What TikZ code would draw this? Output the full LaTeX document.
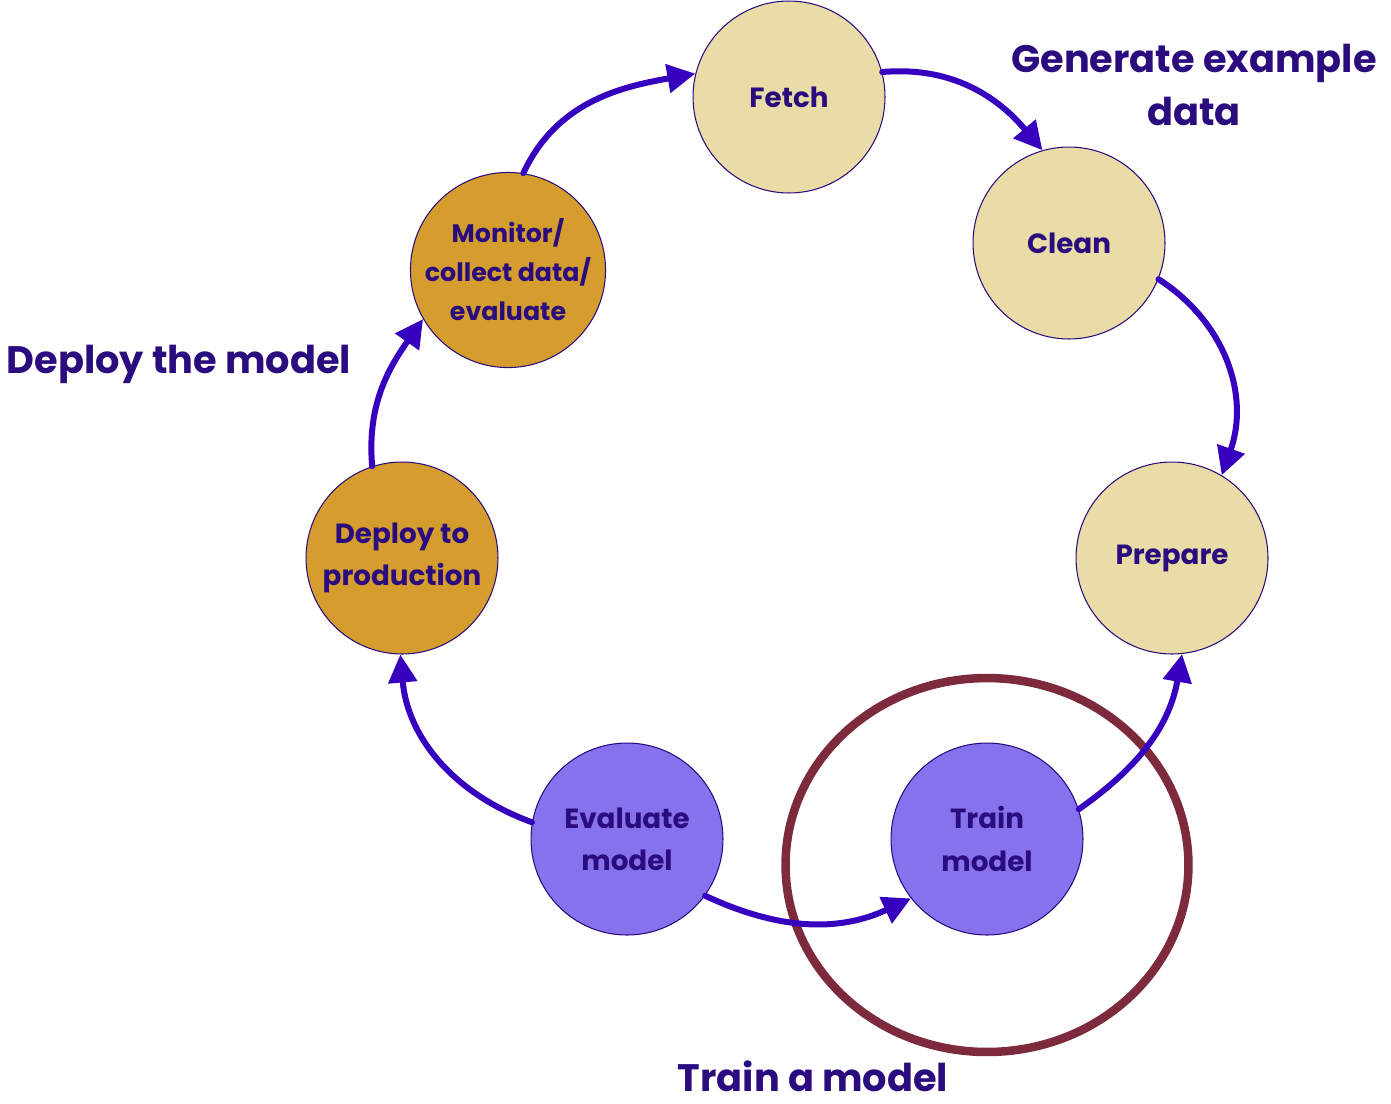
\documentclass[tikz,border=0pt]{standalone}
\usepackage{fontspec}
\setmainfont{Poppins}
\usetikzlibrary{arrows.meta,shapes.geometric}
\definecolor{txt}{HTML}{2A0C7E}
\definecolor{arr}{HTML}{3600BE}
\definecolor{tan}{HTML}{EADCA6}
\definecolor{gold}{HTML}{D59D2E}
\definecolor{lav}{HTML}{8672EC}
\definecolor{maroon}{HTML}{7C2A3C}
\tikzset{
  stage/.style={circle, draw=txt, line width=0.6pt, minimum size=3.84cm, inner sep=0pt, align=center,
     text=txt, font=\fontsize{15.8}{24}\selectfont\bfseries},
  flow/.style={draw=arr, line width=0.12cm, line cap=round, -{Triangle[length=0.56cm,width=0.56cm]}},
  phase/.style={text=txt, align=center, font=\fontsize{21.8}{30}\selectfont\bfseries}
}
\begin{document}
\begin{tikzpicture}[x=0.02cm,y=-0.02cm]
\useasboundingbox (0,0) rectangle (1391,1103);
\node[stage, fill=tan] (fetch) at (789,97) {Fetch};
\node[stage, fill=tan] (clean) at (1069,243) {Clean};
\node[stage, fill=tan] (prepare) at (1172,558) {Prepare};
\node[stage, fill=lav] (train) at (987,839) {Train\\model};
\node[stage, fill=lav] (evaluate) at (627,839) {Evaluate\\model};
\node[stage, fill=gold] (deploy) at (402,558) {Deploy to\\production};
\node[stage, fill=gold, font=\fontsize{14.4}{22.2}\selectfont\bfseries] (monitor) at (508,270) {Monitor/\\collect data/\\evaluate};
\node[draw=maroon, line width=0.17cm, ellipse, minimum width=8.06cm, minimum height=7.48cm, inner sep=0pt] (ring) at (987,865) {};
\draw[flow] (fetch.15) to[out=5,in=130] (clean.106);
\draw[flow] (clean.-22) .. controls (1225,322) and (1250,395) .. (prepare.59);
\draw[flow] (train.18) to[out=35,in=-100] (prepare.-84);
\draw[flow] (evaluate.-36) to[out=-25,in=205] (train.218);
\draw[flow] (evaluate.170) to[out=160,in=-85] (deploy.-91);
\draw[flow] (deploy.108) to[out=95,in=235] (monitor.210);
\draw[flow] (monitor.81) to[out=65,in=190] (fetch.166);
\node[phase] (gen) at (1194,85) {Generate example\\data};
\node[phase] (dep) at (179,364) {Deploy the model};
\node[phase] (trn) at (813,1076) {Train a model};
\end{tikzpicture}
\end{document}
